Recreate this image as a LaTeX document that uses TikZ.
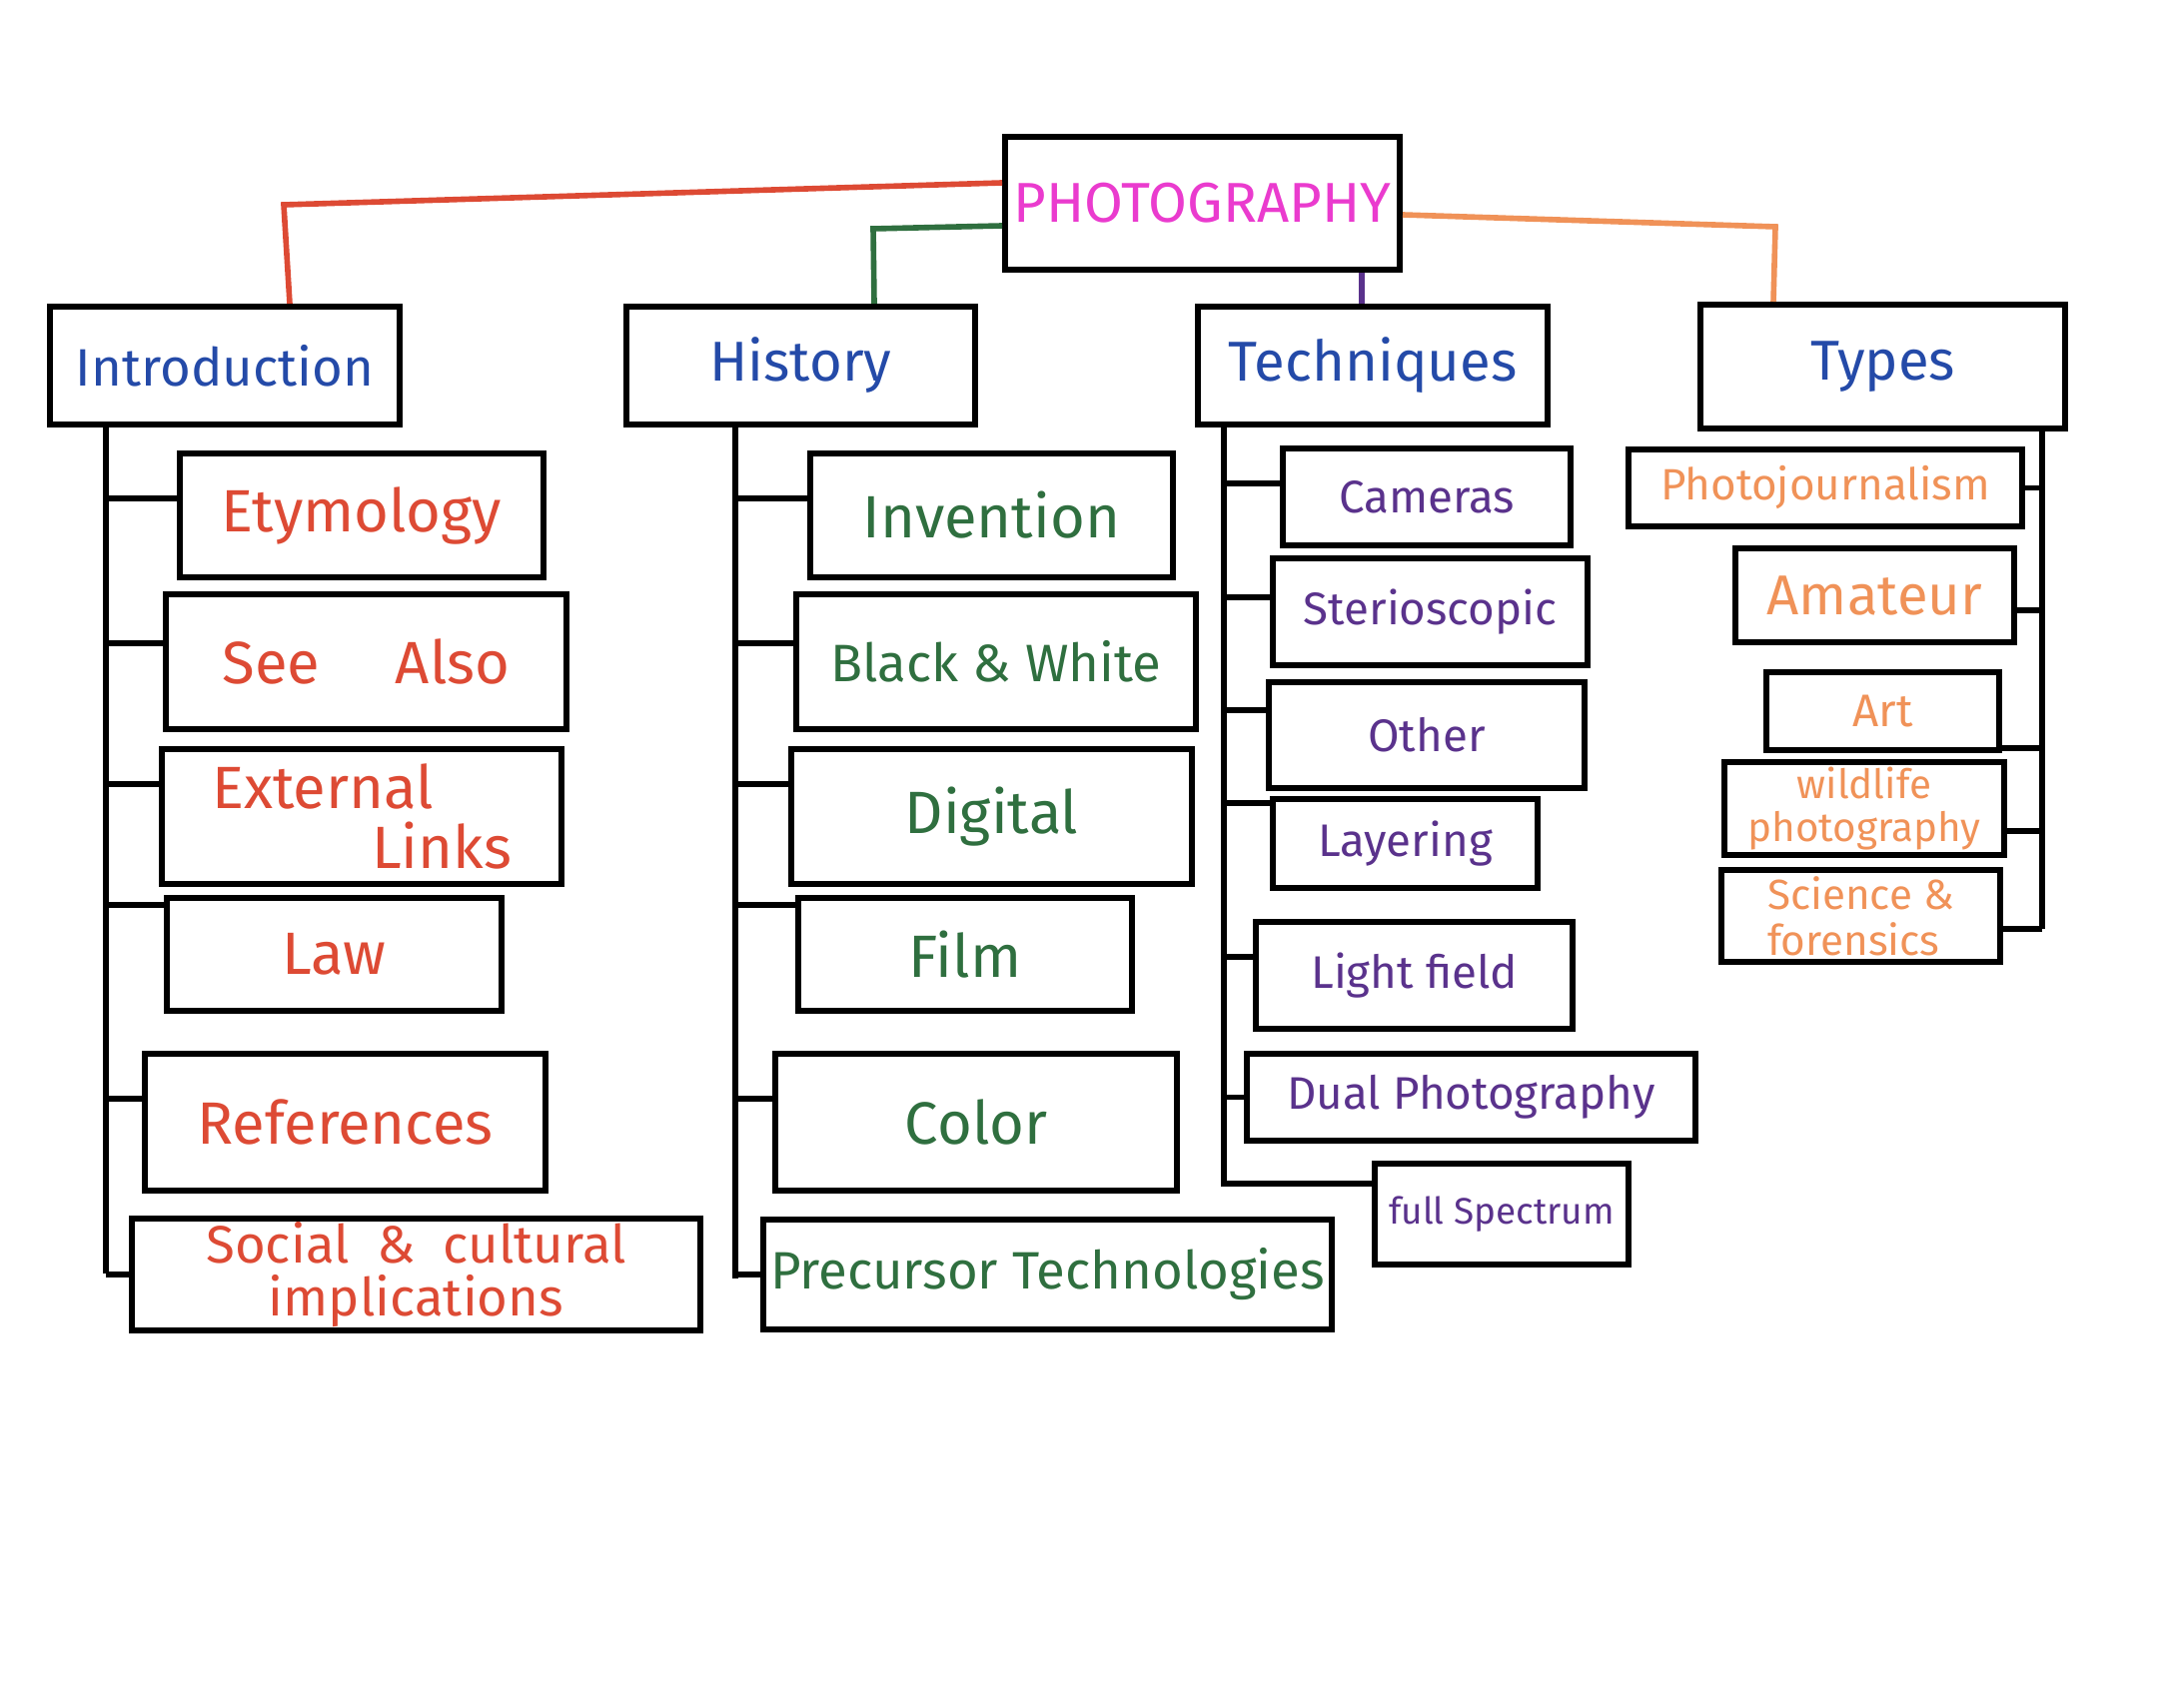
\documentclass[tikz,border=0pt]{standalone}
\usepackage{fontspec}
\setmainfont{Fira Sans}
\usetikzlibrary{positioning}

\definecolor{photopink}{RGB}{234,59,206}
\definecolor{topicblue}{RGB}{36,74,168}
\definecolor{introred}{RGB}{221,74,52}
\definecolor{histgreen}{RGB}{47,111,63}
\definecolor{techpurple}{RGB}{90,50,140}
\definecolor{typeorange}{RGB}{240,146,88}

\begin{document}
\begin{tikzpicture}[x=1cm, y=1cm, every node/.style={font=\small}]

	% Page frame
	\useasboundingbox (0,0) rectangle (21.86,-17.04);

	% Styles for boxes, branches and links
	\tikzset{
		box/.style={draw, line width=1.7pt, inner sep=1pt, align=center},
		topic/.style={box, text=topicblue, font=\fontsize{16}{18}\selectfont},
		introitem/.style={box, text=introred, font=\fontsize{17}{17}\selectfont},
		histitem/.style={box, text=histgreen, font=\fontsize{17}{17}\selectfont},
		techitem/.style={box, text=techpurple, font=\fontsize{13}{15}\selectfont},
		typeitem/.style={box, text=typeorange, font=\fontsize{13}{13}\selectfont},
		spine/.style={line width=1.6pt},
		link/.style={line width=1.6pt}
	};

	% Root
	\node[box, text=photopink, font=\fontsize{16}{18}\selectfont, minimum width=3.95cm, minimum height=1.33cm] (photo) at (12.035,-2.035) {PHOTOGRAPHY};

	% Main topics
	\node[topic, font=\fontsize{15}{17}\selectfont, minimum width=3.50cm, minimum height=1.18cm] (intro) at (2.25,-3.66) {Introduction};
	\node[topic, minimum width=3.49cm, minimum height=1.18cm] (history) at (8.015,-3.66) {History};
	\node[topic, minimum width=3.50cm, minimum height=1.18cm] (techniques) at (13.74,-3.66) {Techniques};
	\node[topic, minimum width=3.65cm, minimum height=1.24cm] (types) at (18.845,-3.67) {Types};

	% Links from the root
	\coordinate (introbend) at (2.84,-2.05);
	\coordinate (histbend) at (8.74,-2.29);
	\coordinate (typebend) at (17.77,-2.27);
	\draw[link, introred] ([yshift=0.205cm]photo.west) -- (introbend) -- ([xshift=0.65cm]intro.north);
	\draw[link, histgreen] ([yshift=-0.225cm]photo.west) -- (histbend) -- ([xshift=0.735cm]history.north);
	\draw[link, techpurple] ([xshift=-0.11cm]techniques.north) -- ([xshift=-0.11cm]techniques.north |- photo.south);
	\draw[link, typeorange] ([yshift=-0.115cm]photo.east) -- (typebend) -- ([xshift=-1.095cm]types.north);

	% Introduction
	\node[introitem, minimum width=3.64cm, minimum height=1.24cm] (etym) at (3.62,-5.16) {Etymology};
	\node[introitem, minimum width=4.01cm, minimum height=1.35cm] (seealso) at (3.665,-6.625) {See \quad Also};
	\node[introitem, minimum width=4.00cm, minimum height=1.35cm, align=left] (extlinks) at (3.62,-8.175) {External\\\hspace{1.6cm}Links};
	\node[introitem, minimum width=3.35cm, minimum height=1.13cm] (law) at (3.345,-9.555) {Law};
	\node[introitem, minimum width=4.01cm, minimum height=1.37cm] (refs) at (3.455,-11.235) {References};
	\node[introitem, font=\fontsize{15}{15}\selectfont, minimum width=5.69cm, minimum height=1.10cm] (social) at (4.165,-12.76) {Social \ \& \ cultural\\implications};

	\coordinate (introspine) at (1.06,-12.75);
	\draw[spine] (intro.south -| introspine) -- (introspine);
	\foreach \n/\d in {etym/0.17, seealso/0.185, extlinks/0.325, law/0.495, refs/0.235, social/0}
		\draw[spine] (\n.west) ++(0,\d) coordinate (b) -- (b -| introspine);

	% History
	\node[histitem, minimum width=3.63cm, minimum height=1.24cm] (invention) at (9.925,-5.16) {Invention};
	\node[histitem, font=\fontsize{15}{15}\selectfont, minimum width=4.00cm, minimum height=1.35cm] (bw) at (9.97,-6.625) {Black \& White};
	\node[histitem, minimum width=4.01cm, minimum height=1.35cm] (digital) at (9.925,-8.175) {Digital};
	\node[histitem, minimum width=3.34cm, minimum height=1.13cm] (film) at (9.66,-9.555) {Film};
	\node[histitem, minimum width=4.02cm, minimum height=1.37cm] (color) at (9.77,-11.235) {Color};
	\node[histitem, font=\fontsize{15}{15}\selectfont, minimum width=5.69cm, minimum height=1.10cm] (precursor) at (10.485,-12.76) {Precursor Technologies};

	\coordinate (histspine) at (7.36,-12.80);
	\draw[spine] (history.south -| histspine) -- (histspine);
	\foreach \n/\d in {invention/0.17, bw/0.185, digital/0.325, film/0.495, color/0.235, precursor/0}
		\draw[spine] (\n.west) ++(0,\d) coordinate (b) -- (b -| histspine);

	% Techniques
	\node[techitem, minimum width=2.88cm, minimum height=0.97cm] (cameras) at (14.28,-4.975) {Cameras};
	\node[techitem, minimum width=3.15cm, minimum height=1.07cm] (sterio) at (14.315,-6.125) {Sterioscopic};
	\node[techitem, minimum width=3.16cm, minimum height=1.06cm] (other) at (14.28,-7.36) {Other};
	\node[techitem, minimum width=2.65cm, minimum height=0.89cm] (layering) at (14.065,-8.445) {Layering};
	\node[techitem, minimum width=3.17cm, minimum height=1.07cm] (lightfield) at (14.155,-9.765) {Light field};
	\node[techitem, minimum width=4.49cm, minimum height=0.87cm] (dual) at (14.725,-10.985) {Dual Photography};
	\node[techitem, font=\fontsize{10.5}{12}\selectfont, minimum width=2.54cm, minimum height=1.01cm] (fullspec) at (15.03,-12.155) {full Spectrum};

	\coordinate (techspine) at (12.25,-11.85);
	\draw[spine] (techniques.south -| techspine) -- (techspine) -- (fullspec.west |- techspine);
	\foreach \n/\d in {cameras/0.135, sterio/0.145, other/0.25, layering/0.405, lightfield/0.185, dual/0}
		\draw[spine] (\n.west) ++(0,\d) coordinate (b) -- (b -| techspine);

	% Types
	\node[typeitem, font=\fontsize{12.5}{13}\selectfont, minimum width=3.94cm, minimum height=0.77cm] (photoj) at (18.27,-4.885) {Photojournalism};
	\node[typeitem, minimum width=2.79cm, minimum height=0.94cm, font=\fontsize{16}{16}\selectfont] (amateur) at (18.765,-5.96) {Amateur};
	\node[typeitem, minimum width=2.33cm, minimum height=0.78cm] (art) at (18.845,-7.12) {Art};
	\node[typeitem, minimum width=2.80cm, minimum height=0.93cm, font=\fontsize{11.5}{12}\selectfont] (wildlife) at (18.66,-8.095) {wildlife\\photography};
	\node[typeitem, minimum width=2.79cm, minimum height=0.92cm, font=\fontsize{12}{13}\selectfont, align=left] (science) at (18.625,-9.17) {Science \&\\forensics};

	\coordinate (typespine) at (20.44,-9.30);
	\draw[spine] (types.south -| typespine) -- (typespine);
	\foreach \n/\d in {photoj/0, amateur/-0.15, art/-0.37, wildlife/-0.225, science/-0.13}
		\draw[spine] (\n.east) ++(0,\d) coordinate (b) -- (b -| typespine);
\end{tikzpicture}
\end{document}
